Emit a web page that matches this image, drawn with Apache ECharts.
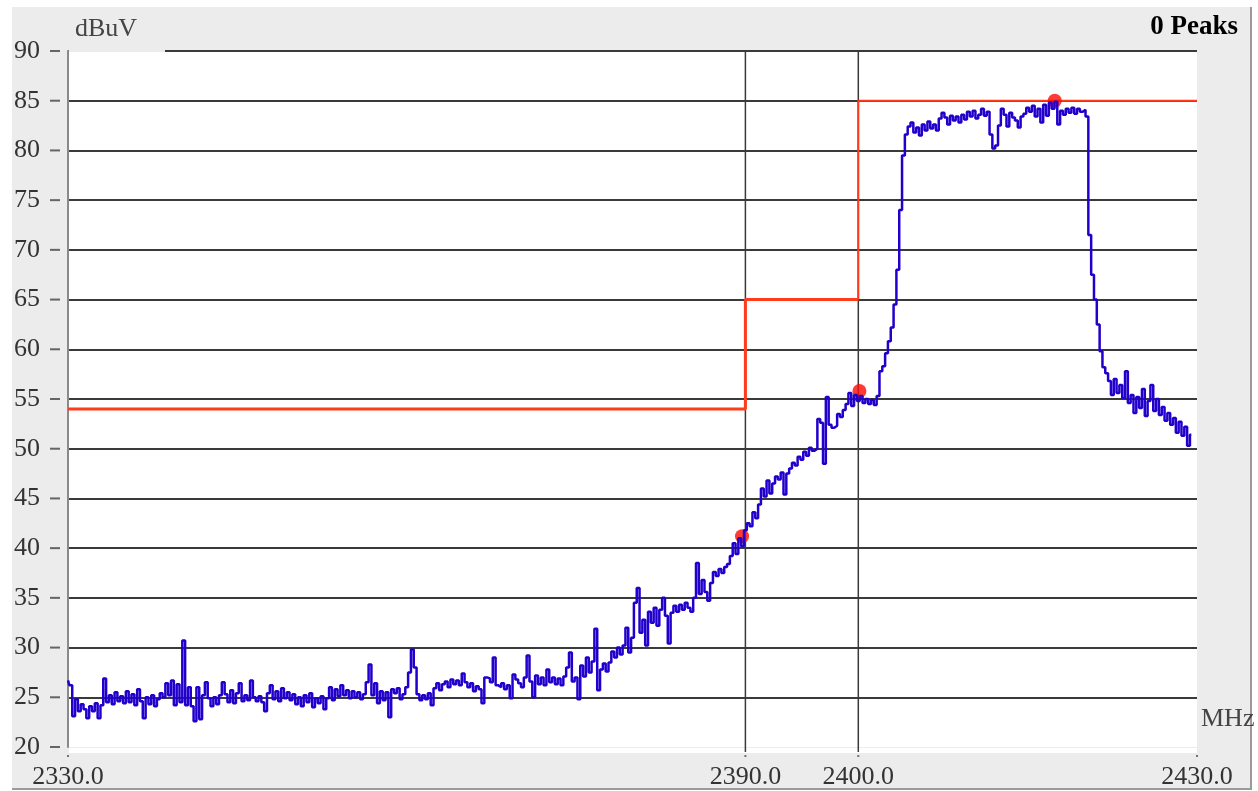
<!DOCTYPE html>
<html><head><meta charset="utf-8">
<script src="https://cdn.jsdelivr.net/npm/echarts@6/dist/echarts.min.js"></script>
<style>
html,body{margin:0;padding:0;background:#fff;}
#wrap{position:relative;width:1258px;height:791px;overflow:hidden;}
#panel{position:absolute;left:12px;top:7px;width:1238px;height:781px;background:#ececec;border-right:2px solid #9a9a9a;border-bottom:2px solid #9a9a9a;}
#chart{position:absolute;left:0;top:0;width:1258px;height:791px;}
</style></head><body>
<div id="wrap"><div id="panel"></div><div id="chart"></div></div>
<script>
// sweep: start frequency and step (MHz)
const freqStart = 2330;
const freqStep = 0.25;
const lvl2330 = [26.7,26.2,23.1,24.8,23.6,24.3,23.8,22.9,24.1,23.6, 24.4,22.9,24.2,26.9,24.5,25.2,24.3,25.5,24.6,25.1, 24.4,25.6,24.5,25.3,24.2,25.8,24.6,22.9,25.0,24.3, 25.2,24.1,24.8,25.4,25.0,26.4,25.2,26.7,24.2,26.3];
const lvl2340 = [24.5,30.7,24.2,26.0,24.1,22.6,26.0,22.8,25.2,26.5, 24.9,24.1,25.0,24.3,25.2,26.5,25.3,24.5,25.7,24.4, 25.4,26.4,24.6,25.2,24.7,26.7,25.0,24.6,25.1,24.5, 23.6,25.4,26.2,24.8,25.6,24.6,25.9,24.9,25.5,24.7];
const lvl2350 = [25.3,24.3,25.0,24.1,25.2,24.5,25.4,24.0,24.9,24.4, 25.1,23.8,24.9,26.0,24.7,25.8,25.1,26.2,25.2,25.7, 24.9,25.6,25.0,25.5,24.8,25.3,26.5,28.3,25.2,26.4, 24.4,25.6,24.7,25.5,23.0,25.8,25.4,25.9,24.8,25.3];
const lvl2360 = [26.0,27.5,29.8,28.0,25.3,24.7,25.2,24.8,25.4,24.2, 25.9,26.4,25.7,26.3,26.6,26.0,26.8,26.3,26.7,26.2, 27.4,26.5,26.0,26.4,25.6,26.1,25.8,24.4,27.0,26.9, 26.5,29.0,26.2,26.0,26.4,25.8,26.2,24.9,27.3,26.8];
const lvl2370 = [26.4,26.0,27.0,29.2,26.6,25.0,27.2,26.3,27.0,26.2, 27.8,26.5,27.0,26.3,26.9,26.2,27.1,28.0,29.5,26.6, 27.0,24.8,28.2,27.1,29.0,27.5,28.6,31.9,25.7,27.8, 28.4,27.6,28.5,29.6,29.0,30.0,29.3,30.2,32.0,29.5];
const lvl2380 = [31.0,34.5,36.0,31.5,32.8,30.2,33.6,32.5,34.0,32.2, 33.8,35.0,33.2,30.4,33.5,34.2,33.6,34.3,33.8,34.5, 34.0,33.6,35.0,38.5,35.4,36.8,35.6,34.7,36.5,37.6, 37.2,37.9,37.5,38.1,38.4,39.2,40.5,39.4,41.0,40.2];
const lvl2390 = [41.8,42.5,42.2,43.6,43.0,44.4,46.0,45.2,46.8,45.5, 46.5,47.2,46.9,47.6,45.4,47.5,48.0,48.6,48.3,49.2, 48.9,49.7,49.3,50.1,49.8,50.0,53.0,52.6,48.5,55.2, 52.4,52.1,52.3,53.5,53.2,53.9,54.5,55.6,54.3,55.4];
const lvl2400 = [54.8,55.3,54.6,55.0,54.5,54.9,54.4,55.3,57.8,58.3, 59.6,60.8,62.2,64.5,68.0,74.0,79.5,81.6,82.4,82.8, 81.8,82.3,81.5,82.6,82.0,82.9,82.2,82.6,82.0,83.2, 83.8,83.3,82.6,83.5,83.0,83.4,82.8,83.6,83.1,83.9];
const lvl2410 = [83.4,84.0,83.2,83.6,84.2,83.5,83.9,81.6,80.2,80.5, 82.5,84.2,83.6,82.4,83.8,83.3,83.0,82.3,83.4,83.7, 84.3,83.9,84.5,83.4,84.2,82.8,84.6,83.5,84.8,84.2, 84.9,82.6,84.0,83.6,84.2,83.8,84.3,83.7,84.2,83.9];
const lvl2420 = [84.1,83.4,71.5,67.5,65.0,62.5,59.8,58.2,57.6,56.8, 55.4,57.0,55.6,56.4,55.1,57.8,54.6,55.4,53.6,55.2, 54.1,56.0,53.3,54.8,56.4,53.8,55.0,53.4,54.2,52.8, 53.6,52.4,53.1,51.6,52.7,51.3,52.2,50.3,51.4];

const peaks = [[2389.7, 41.2], [2400.1, 55.8], [2417.4, 85.0]];
const limitLow = [[2330, 54], [2390, 54], [2390, 65], [2400, 65]];
const limitHigh = [[2400, 65], [2400, 85], [2430, 85]];
const bandEdges = [2390, 2400];
const xTickValues = [2330, 2390, 2400, 2430];
const yTickValues = [20, 25, 30, 35, 40, 45, 50, 55, 60, 65, 70, 75, 80, 85, 90];
const yMin = 20, yMax = 90, yStep = 5;
const xMin = 2330, xMax = 2430;

const levels = [].concat(lvl2330, lvl2340, lvl2350, lvl2360, lvl2370, lvl2380, lvl2390, lvl2400, lvl2410, lvl2420);
const trace = levels.map((v, i) => [freqStart + i * freqStep, v]);

const FONT = 'Liberation Serif';
const chart = echarts.init(document.getElementById('chart'), null, {renderer: 'canvas'});

const series = [];
bandEdges.forEach(e => {
  series.push({type: 'line', data: [[e, yMax], [e, yMin - 0.5]], clip: false, symbol: 'none', silent: true,
    lineStyle: {color: '#3a3a3a', width: 1.5}, z: 1});
});
// y tick dashes, set off to the left of the axis line
series.push({type: 'scatter', data: yTickValues.map(v => [xMin, v]), clip: false, silent: true,
  symbol: 'rect', symbolSize: [10, 2], symbolOffset: [-13, 0], itemStyle: {color: '#444'}, z: 6});
// x tick dots below the plot
series.push({type: 'scatter', data: xTickValues.map(v => [v, yMin]), clip: false, silent: true,
  symbol: 'rect', symbolSize: [2, 2], symbolOffset: [0, 9], itemStyle: {color: '#555'}, z: 6});
series.push({type: 'line', data: limitLow, symbol: 'none', silent: true, lineStyle: {color: '#ff3b1a', width: 3}, z: 3});
series.push({type: 'line', data: limitHigh, symbol: 'none', silent: true, lineStyle: {color: '#ff3b1a', width: 2}, z: 3});
series.push({type: 'scatter', data: peaks, symbol: 'circle', symbolSize: 14, itemStyle: {color: '#ff0a00'}, z: 4});
series.push({type: 'line', data: trace, step: 'middle', symbol: 'none', lineStyle: {color: '#2200cc', width: 2.5}, z: 5});

chart.setOption({
  animation: false,
  backgroundColor: 'transparent',
  title: [
    {text: 'dBuV', left: 75, top: 16, padding: 0, textStyle: {fontFamily: FONT, fontSize: 26, fontWeight: 'normal', color: '#444'}},
    {text: '0 Peaks', right: 20, top: 14, padding: 0, textStyle: {fontFamily: FONT, fontSize: 27, fontWeight: 'bold', color: '#000'}},
    {text: 'MHz', left: 1201, top: 706, padding: 0, textStyle: {fontFamily: FONT, fontSize: 26, fontWeight: 'normal', color: '#444'}}
  ],
  grid: {left: 68, right: 61, top: 51, bottom: 44, show: true, backgroundColor: '#fff', borderWidth: 0},
  xAxis: {
    type: 'value', min: xMin, max: xMax,
    axisLine: {show: false},
    axisTick: {show: false},
    axisLabel: {customValues: xTickValues, formatter: v => Number(v).toFixed(1),
      fontFamily: FONT, fontSize: 26, color: '#333', margin: 17},
    splitLine: {show: false}
  },
  yAxis: {
    type: 'value', min: yMin, max: yMax, interval: yStep, position: 'left',
    axisLine: {show: true, lineStyle: {color: '#8a8a8a', width: 2}},
    axisTick: {show: false},
    axisLabel: {fontFamily: FONT, fontSize: 26, color: '#333', margin: 28},
    splitLine: {show: true, showMinLine: false, lineStyle: {color: '#3a3a3a', width: 2}}
  },
  graphic: [
    {type: 'rect', shape: {x: 69, y: 47, width: 96, height: 5}, style: {fill: '#ececec'}, z: 100, silent: true},
    {type: 'rect', shape: {x: 69, y: 748, width: 1128, height: 5}, style: {fill: '#fff'}, z: 0, silent: true}
  ],
  series: series
});
</script>
</body></html>
